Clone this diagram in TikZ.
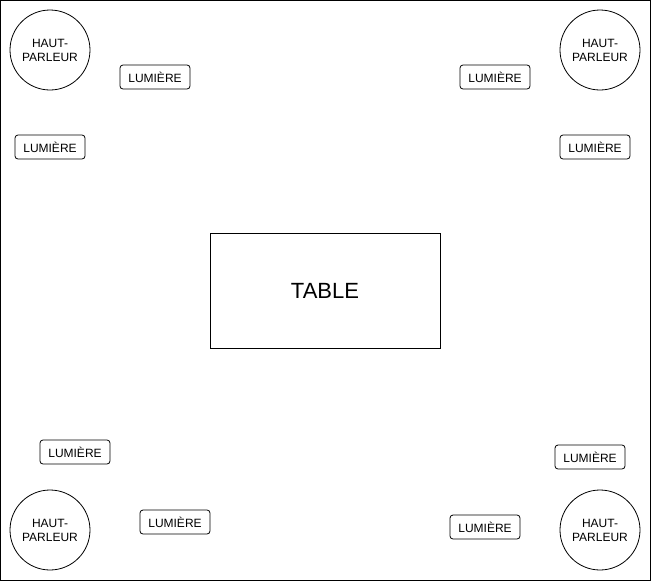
\documentclass[tikz,border=0pt]{standalone}
\usepackage{fontspec}
\setmainfont{Liberation Sans}
\usepackage{tikz}

\begin{document}
\begin{tikzpicture}[x=1pt, y=-1pt, line width=0.8pt,
		hp/.style={draw, circle, minimum size=80pt, inner sep=0pt, align=center, font=\fontsize{12}{14}\selectfont},
		light/.style={draw, rounded corners=3pt, minimum width=70pt, minimum height=24pt, inner sep=0pt, font=\fontsize{12}{14}\selectfont},
		tbl/.style={draw, minimum width=230pt, minimum height=115pt, inner sep=0pt, font=\fontsize{22}{26}\selectfont}]
		\useasboundingbox (0,0) rectangle (651,581);
		\draw (0.5,0.5) rectangle (650.5,580.5);

		\node[hp] (hp1) at (50,50) {HAUT-\\PARLEUR};
		\node[hp] (hp2) at (600,50) {HAUT-\\PARLEUR};
		\node[hp] (hp3) at (50,530) {HAUT-\\PARLEUR};
		\node[hp] (hp4) at (600,530) {HAUT-\\PARLEUR};

		\node[light] (l1) at (155,77) {LUMIÈRE};
		\node[light] (l2) at (50,147) {LUMIÈRE};
		\node[light] (l3) at (495,77) {LUMIÈRE};
		\node[light] (l4) at (595,147) {LUMIÈRE};
		\node[light] (l5) at (75,452) {LUMIÈRE};
		\node[light] (l6) at (175,522) {LUMIÈRE};
		\node[light] (l7) at (590,457) {LUMIÈRE};
		\node[light] (l8) at (485,527) {LUMIÈRE};

		\node[tbl] (table) at (325,290.5) {TABLE};
	\end{tikzpicture}
\end{document}
